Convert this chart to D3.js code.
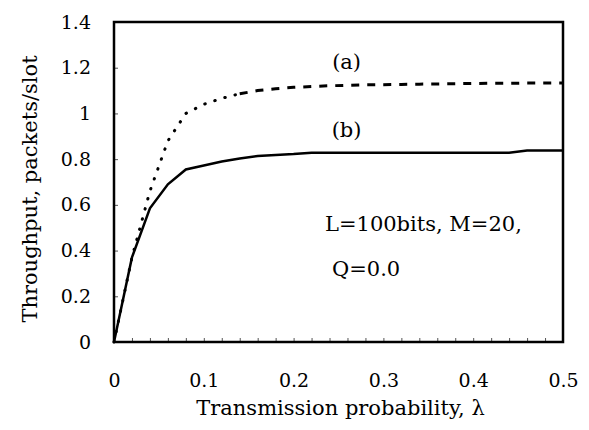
<!DOCTYPE html>
<html>
<head>
<meta charset="utf-8">
<script src="https://cdn.jsdelivr.net/npm/d3@7"></script>
<style>
  body { margin: 0; background: #fff; }
  text { font-family: "DejaVu Serif", serif; fill: #000; }
</style>
</head>
<body>
<div id="chart"></div>
<script>
// transmission probability (x) and throughput values
var lambda = [0, 0.02, 0.04, 0.06, 0.08, 0.10, 0.12, 0.14, 0.16, 0.18, 0.20, 0.22, 0.24,
              0.26, 0.28, 0.30, 0.32, 0.34, 0.36, 0.38, 0.40, 0.42, 0.44, 0.46, 0.48, 0.50];

// curve (a)
var seriesA = [0, 0.37, 0.66, 0.88, 1.0, 1.04, 1.066, 1.086, 1.1, 1.108, 1.114, 1.118, 1.121,
               1.123, 1.125, 1.126, 1.127, 1.128, 1.129, 1.13, 1.131, 1.132, 1.132, 1.133, 1.133, 1.133];

// curve (b)
var seriesB = [0, 0.37, 0.585, 0.69, 0.755, 0.772, 0.79, 0.803, 0.814, 0.818, 0.822, 0.828, 0.828,
               0.828, 0.828, 0.828, 0.828, 0.828, 0.828, 0.828, 0.828, 0.828, 0.828, 0.838, 0.838, 0.838];

var xTicks = [0, 0.1, 0.2, 0.3, 0.4, 0.5];
var yTicks = [0, 0.2, 0.4, 0.6, 0.8, 1, 1.2, 1.4];
var xMinor = [0.02, 0.04, 0.06, 0.08, 0.12, 0.14, 0.16, 0.18, 0.22, 0.24, 0.26, 0.28,
              0.32, 0.34, 0.36, 0.38, 0.42, 0.44, 0.46, 0.48];

var margin = {top: 22, right: 26, bottom: 88, left: 114},
    width = 589 - margin.left - margin.right,
    height = 430 - margin.top - margin.bottom;

var svg = d3.select("#chart")
  .append("svg")
    .attr("width", 589)
    .attr("height", 430)
  .append("g")
    .attr("transform", "translate(" + margin.left + "," + margin.top + ")");

var x = d3.scaleLinear().domain([0, 0.5]).range([0, width]);
var y = d3.scaleLinear().domain([0, 1.4]).range([height, 0]);

// minor ticks along the bottom, inside the frame
svg.append("g")
  .attr("transform", "translate(0," + height + ")")
  .call(d3.axisBottom(x).tickValues(xMinor).tickSize(-4).tickFormat(""))
  .call(function(g) { g.select(".domain").remove(); })
  .selectAll("line").attr("stroke", "#555");

// X axis labels
svg.append("g")
  .attr("transform", "translate(0," + height + ")")
  .call(d3.axisBottom(x).tickValues(xTicks).tickSize(-4).tickPadding(32)
    .tickFormat(function(d) { return d === 0 ? "0" : d3.format(".1f")(d); }))
  .call(function(g) {
    g.select(".domain").remove();
    g.selectAll("line").attr("stroke", "#555");
    g.selectAll("text").style("font-size", "19px").style("font-family", "DejaVu Serif");
  });

// Y axis labels
svg.append("g")
  .call(d3.axisLeft(y).tickValues(yTicks).tickSize(-4).tickPadding(23)
    .tickFormat(function(d) { return d3.format("")(+d.toFixed(1)); }))
  .call(function(g) {
    g.select(".domain").remove();
    g.selectAll("line").attr("stroke", "#555");
    g.selectAll("text").style("font-size", "19px").style("font-family", "DejaVu Serif");
  });

// frame
svg.append("rect")
  .attr("width", width)
  .attr("height", height)
  .attr("fill", "none")
  .attr("stroke", "#000")
  .attr("stroke-width", 2.5);

var line = d3.line()
  .x(function(d) { return x(d[0]); })
  .y(function(d) { return y(d[1]); });

var dataA = lambda.map(function(l, i) { return [l, seriesA[i]]; });
var dataB = lambda.map(function(l, i) { return [l, seriesB[i]]; });

// curve (b), solid
svg.append("path")
  .datum(dataB)
  .attr("fill", "none")
  .attr("stroke", "#000")
  .attr("stroke-width", 2.5)
  .attr("d", line);

// curve (a): dotted where it rises, dashed on the plateau
svg.append("path")
  .datum(dataA.filter(function(d) { return d[0] <= 0.14; }))
  .attr("fill", "none")
  .attr("stroke", "#000")
  .attr("stroke-width", 3)
  .attr("stroke-linecap", "round")
  .attr("stroke-dasharray", "0.5,10")
  .attr("d", line);

svg.append("path")
  .datum(dataA.filter(function(d) { return d[0] >= 0.14; }))
  .attr("fill", "none")
  .attr("stroke", "#000")
  .attr("stroke-width", 3)
  .attr("stroke-dasharray", "8,8")
  .attr("d", line);

// annotations
svg.append("text")
  .attr("x", x(0.259)).attr("y", 47)
  .attr("text-anchor", "middle")
  .style("font-size", "21px")
  .text("(a)");

svg.append("text")
  .attr("x", x(0.259)).attr("y", 115)
  .attr("text-anchor", "middle")
  .style("font-size", "21px")
  .text("(b)");

svg.append("text")
  .attr("x", 211).attr("y", 209)
  .style("font-size", "21px")
  .text("L=100bits, M=20,");

svg.append("text")
  .attr("x", 218).attr("y", 254)
  .style("font-size", "21px")
  .text("Q=0.0");

// axis titles
svg.append("text")
  .attr("x", width / 2 + 2)
  .attr("y", height + 73)
  .attr("text-anchor", "middle")
  .style("font-size", "21px")
  .text("Transmission probability, λ");

svg.append("text")
  .attr("transform", "translate(" + (37 - margin.left) + "," + (189 - margin.top) + ") rotate(-90)")
  .attr("text-anchor", "middle")
  .style("font-size", "21px")
  .text("Throughput, packets/slot");
</script>
</body>
</html>
